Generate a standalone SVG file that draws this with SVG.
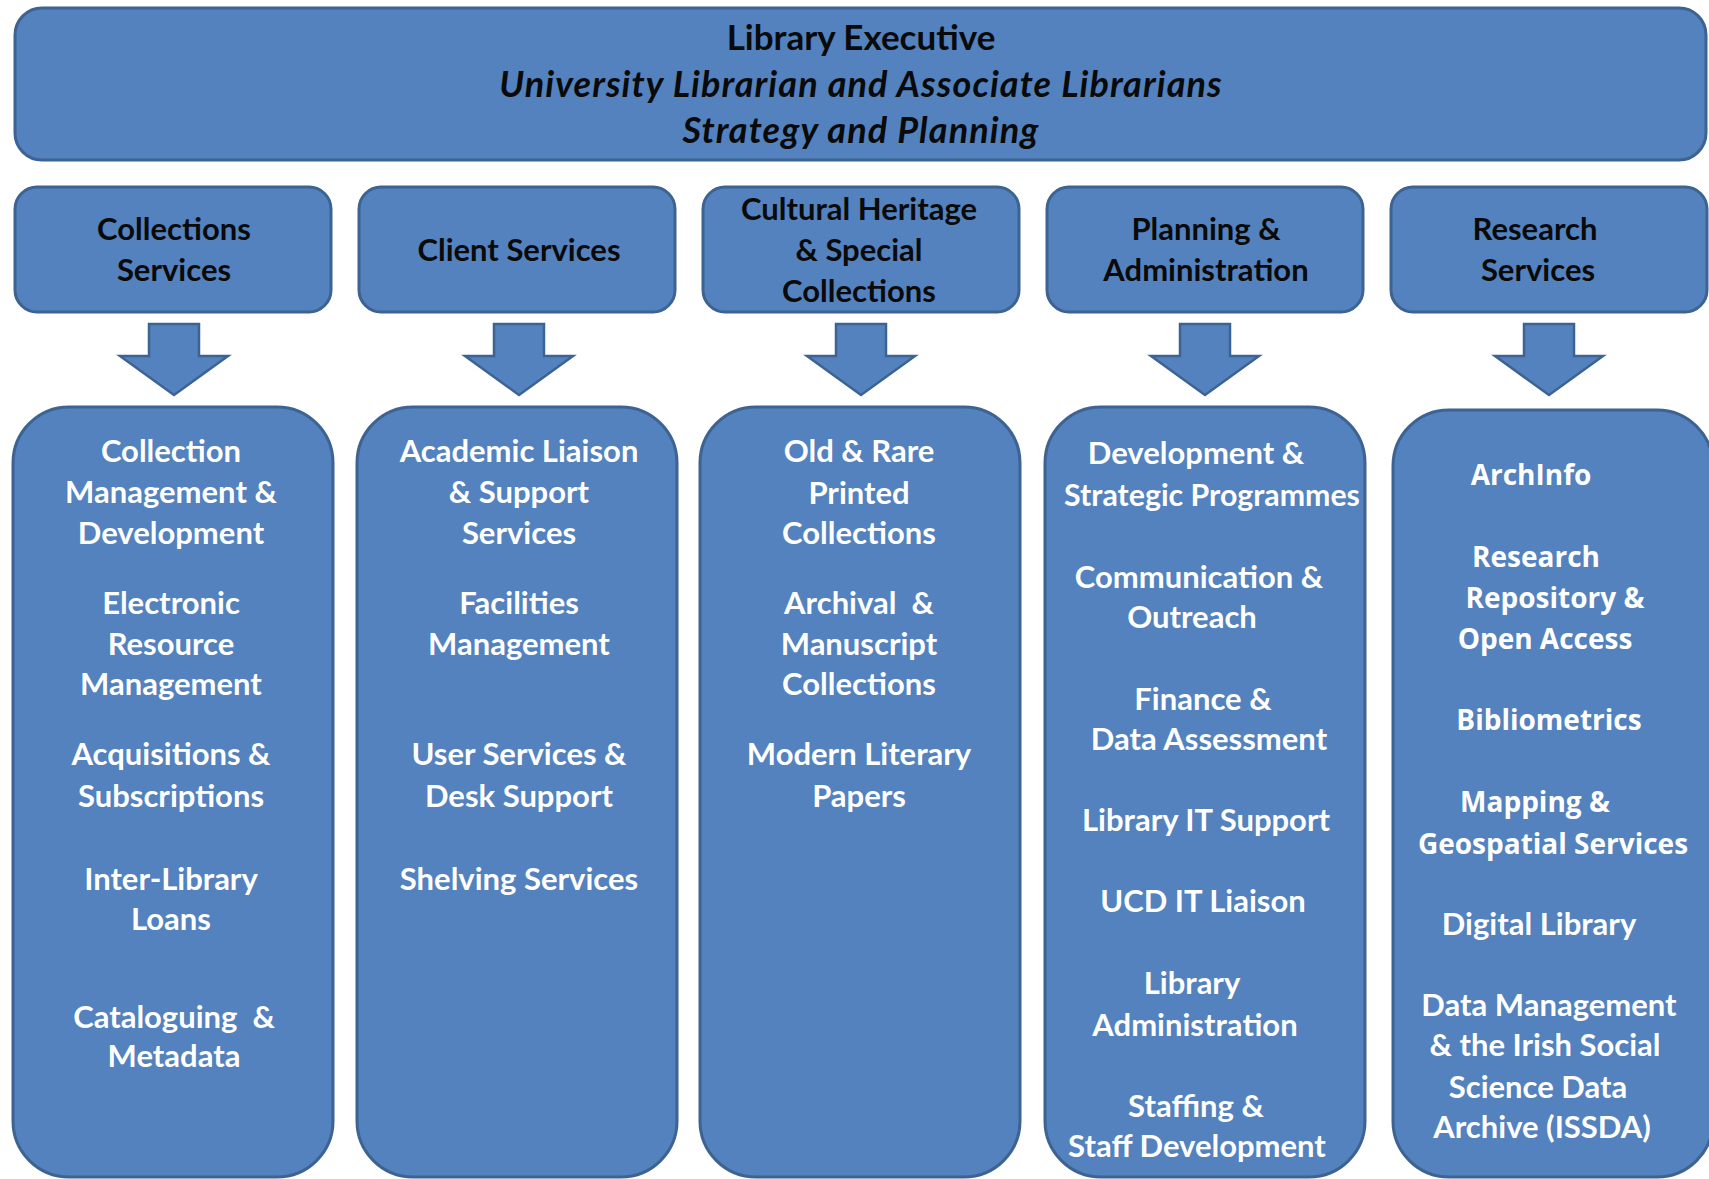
<svg xmlns="http://www.w3.org/2000/svg" width="1709" height="1179" viewBox="0 0 1709 1179">
<style>
.box{fill:#5382BE;stroke:#3C6392;stroke-width:3}
.arr{fill:#5382BE;stroke:#3C6392;stroke-width:2.5;stroke-linejoin:miter}
.t{font-family:Lato,"Open Sans","Liberation Sans",sans-serif;font-weight:bold;font-size:31px;text-anchor:middle}
.k{fill:#0a0a0a}
.w{fill:#ffffff}
.h{font-size:35px}
.i{font-style:italic;font-size:36px;letter-spacing:1.1px}
.o{font-family:"Open Sans",Lato,"Liberation Sans",sans-serif;font-size:28px}
.s{font-size:30.3px}
</style>
<rect width="1709" height="1179" fill="#ffffff"/>
<g id="executive">
<rect class="box" x="15" y="8" width="1691" height="152" rx="27"/>
<text class="t k h" x="861" y="50">Library Executive</text>
<text class="t k i" x="861" y="97">University Librarian and Associate Librarians</text>
<text class="t k i" x="861" y="143">Strategy and Planning</text>
</g>
<g id="collections-services">
<rect class="box" x="15" y="187" width="316" height="125" rx="22"/>
<text class="t k" x="174" y="240">Collections</text>
<text class="t k" x="174" y="281">Services</text>
</g>
<g id="client-services">
<rect class="box" x="359" y="187" width="316" height="125" rx="22"/>
<text class="t k" x="519" y="261">Client Services</text>
</g>
<g id="cultural-heritage">
<rect class="box" x="703" y="187" width="316" height="125" rx="22"/>
<text class="t k" x="859" y="220">Cultural Heritage</text>
<text class="t k" x="859" y="261">&amp; Special</text>
<text class="t k" x="859" y="302">Collections</text>
</g>
<g id="planning-administration">
<rect class="box" x="1047" y="187" width="316" height="125" rx="22"/>
<text class="t k" x="1206" y="240">Planning &amp;</text>
<text class="t k" x="1206" y="281">Administration</text>
</g>
<g id="research-services">
<rect class="box" x="1391" y="187" width="316" height="125" rx="22"/>
<text class="t k" x="1535" y="240">Research</text>
<text class="t k" x="1538" y="281">Services</text>
</g>
<g id="connectors">
<path class="arr" d="M149 324 H199 V356 H228 L174 395 L120 356 H149 Z"/>
<path class="arr" d="M494 324 H544 V356 H573 L519 395 L465 356 H494 Z"/>
<path class="arr" d="M836 324 H886 V356 H915 L861 395 L807 356 H836 Z"/>
<path class="arr" d="M1180 324 H1230 V356 H1259 L1205 395 L1151 356 H1180 Z"/>
<path class="arr" d="M1524 324 H1574 V356 H1603 L1549 395 L1495 356 H1524 Z"/>
</g>
<g id="collections-units">
<rect class="box" x="13" y="407" width="320" height="770" rx="56"/>
<text class="t w" x="171" y="462">Collection</text>
<text class="t w" x="171" y="503">Management &amp;</text>
<text class="t w" x="171" y="544">Development</text>
<text class="t w" x="171" y="614">Electronic</text>
<text class="t w" x="171" y="655">Resource</text>
<text class="t w" x="171" y="695">Management</text>
<text class="t w" x="171" y="765">Acquisitions &amp;</text>
<text class="t w" x="171" y="807">Subscriptions</text>
<text class="t w" x="171" y="890">Inter-Library</text>
<text class="t w" x="171" y="930">Loans</text>
<text class="t w" x="174" y="1028" xml:space="preserve">Cataloguing  &amp;</text>
<text class="t w" x="174" y="1067">Metadata</text>
</g>
<g id="client-units">
<rect class="box" x="357" y="407" width="320" height="770" rx="56"/>
<text class="t w" x="519" y="462">Academic Liaison</text>
<text class="t w" x="519" y="503">&amp; Support</text>
<text class="t w" x="519" y="544">Services</text>
<text class="t w" x="519" y="614">Facilities</text>
<text class="t w" x="519" y="655">Management</text>
<text class="t w" x="519" y="765">User Services &amp;</text>
<text class="t w" x="519" y="807">Desk Support</text>
<text class="t w" x="519" y="890">Shelving Services</text>
</g>
<g id="cultural-units">
<rect class="box" x="700" y="407" width="320" height="770" rx="56"/>
<text class="t w" x="859" y="462">Old &amp; Rare</text>
<text class="t w" x="859" y="504">Printed</text>
<text class="t w" x="859" y="544">Collections</text>
<text class="t w" x="859" y="614" xml:space="preserve">Archival  &amp;</text>
<text class="t w" x="859" y="655">Manuscript</text>
<text class="t w" x="859" y="695">Collections</text>
<text class="t w" x="859" y="765">Modern Literary</text>
<text class="t w" x="859" y="807">Papers</text>
</g>
<g id="planning-units">
<rect class="box" x="1045" y="407" width="320" height="770" rx="56"/>
<text class="t w" x="1196" y="464">Development &amp;</text>
<text class="t w s" x="1212" y="506">Strategic Programmes</text>
<text class="t w" x="1199" y="588">Communication &amp;</text>
<text class="t w" x="1192" y="628">Outreach</text>
<text class="t w" x="1203" y="710">Finance &amp;</text>
<text class="t w" x="1209" y="750">Data Assessment</text>
<text class="t w" x="1206" y="831">Library IT Support</text>
<text class="t w" x="1203" y="912">UCD IT Liaison</text>
<text class="t w" x="1192" y="994">Library</text>
<text class="t w" x="1195" y="1036">Administration</text>
<text class="t w" x="1196" y="1117">Staffing &amp;</text>
<text class="t w" x="1197" y="1157">Staff Development</text>
</g>
<g id="research-units">
<rect class="box" x="1393" y="410" width="320" height="767" rx="56"/>
<text class="t w o" x="1531" y="485">ArchInfo</text>
<text class="t w o" x="1536" y="567">Research</text>
<text class="t w o" x="1555" y="608">Repository &amp;</text>
<text class="t w o" x="1545" y="649">Open Access</text>
<text class="t w o" x="1549" y="730">Bibliometrics</text>
<text class="t w o" x="1535" y="812">Mapping &amp;</text>
<text class="t w o" x="1553" y="854">Geospatial Services</text>
<text class="t w" x="1539" y="935">Digital Library</text>
<text class="t w" x="1549" y="1016">Data Management</text>
<text class="t w" x="1545" y="1056">&amp; the Irish Social</text>
<text class="t w" x="1538" y="1098">Science Data</text>
<text class="t w" x="1542" y="1138">Archive (ISSDA)</text>
</g>
</svg>
